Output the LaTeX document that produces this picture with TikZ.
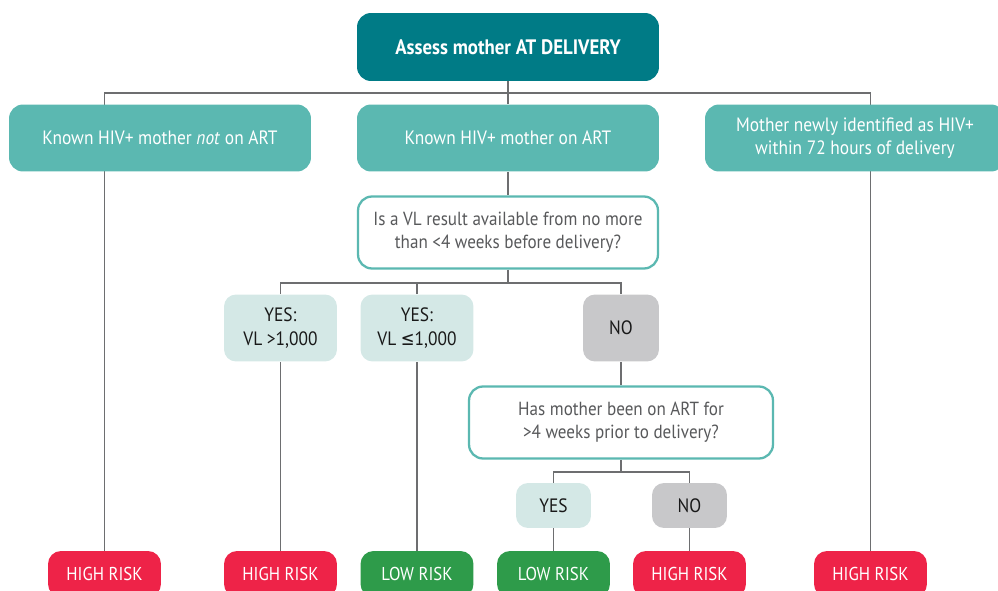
\documentclass[tikz,border=0pt]{standalone}
\usepackage{fontspec}
\setmainfont{PT Sans}[FakeStretch=0.9]
\newfontfamily\symfont{DejaVu Sans}[FakeStretch=0.85]
\usetikzlibrary{backgrounds}
\definecolor{darkteal}{HTML}{007B86}
\definecolor{midteal}{HTML}{5BB8B1}
\definecolor{paleteal}{HTML}{D4E8E6}
\definecolor{lightgray}{HTML}{C8C8CA}
\definecolor{riskred}{HTML}{EE2348}
\definecolor{riskgreen}{HTML}{2E9B4A}
\definecolor{textgray}{HTML}{58595B}
\definecolor{linegray}{HTML}{6D6E70}
\tikzset{
  box/.style={rounded corners=0.28cm, inner sep=0pt, align=center,
    font=\fontsize{11}{13.2}\selectfont},
  head/.style={box, fill=darkteal, text=white, minimum width=6.04cm,
    minimum height=1.36cm, font=\fontsize{11.9}{14}\selectfont\bfseries},
  group/.style={box, fill=midteal, text=white, minimum height=1.34cm},
  question/.style={box, draw=midteal, line width=1.3pt, fill=white,
    text=textgray, minimum width=6.0cm, minimum height=1.44cm,
    font=\fontsize{10.8}{13.2}\selectfont},
  answer/.style={box, rounded corners=0.24cm, text=black!90,
    minimum height=1.34cm},
  risk/.style={box, rounded corners=0.26cm, text=white, minimum width=2.26cm,
    minimum height=0.92cm, font=\fontsize{10.6}{12.6}\selectfont},
  link/.style={draw=linegray, line width=0.6pt}
}
\begin{document}
\begin{tikzpicture}[x=0.02cm, y=-0.02cm]
  \useasboundingbox (0,0) rectangle (998,591);

  \node[head] (top) at (508,47) {Assess mother AT DELIVERY};
  \node[group, minimum width=6.04cm] (notart) at (160,138) {Known HIV+ mother \emph{not} on ART};
  \node[group, minimum width=6.04cm] (onart) at (508,138) {Known HIV+ mother on ART};
  \node[group, minimum width=6.0cm] (newly) at (855,138) {Mother newly identified as HIV+\\within 72 hours of delivery};

  \node[question] (vlq) at (508,232.5) {Is a VL result available from no more\\than <4 weeks before delivery?};
  \node[answer, fill=paleteal, minimum width=2.26cm] (vlhigh) at (280.5,328) {YES:\\VL >1,000};
  \node[answer, fill=paleteal, minimum width=2.26cm] (vllow) at (417,328) {YES:\\VL {\symfont ≤}1,000};
  \node[answer, fill=lightgray, minimum width=1.52cm] (vlno) at (621,328) {NO};

  \node[question, minimum width=6.08cm] (artq) at (621,422.5) {Has mother been on ART for\\>4 weeks prior to delivery?};
  \node[answer, fill=paleteal, minimum width=1.5cm, minimum height=0.9cm] (artyes) at (553.5,505.5) {YES};
  \node[answer, fill=lightgray, minimum width=1.5cm, minimum height=0.9cm] (artno) at (689.5,505.5) {NO};

  \foreach \n/\x/\c/\t in {1/104.5/riskred/HIGH RISK, 2/280.5/riskred/HIGH RISK,
      3/417/riskgreen/LOW RISK, 4/553.5/riskgreen/LOW RISK,
      5/689.5/riskred/HIGH RISK, 6/870.5/riskred/HIGH RISK}
    \node[risk, fill=\c] (risk\n) at (\x,574) {\t};

  \coordinate (bus) at (508,93);
  \coordinate (vlbus) at (508,283);
  \coordinate (artbus) at (621,472);

  \begin{scope}[on background layer]
    \draw[link] (top.south) -- (onart.north);
    \draw[link] (risk1.north) |- (bus) -| (risk6.north);
    \draw[link] (onart.south) -- (vlq.north);
    \draw[link] (vlq.south) -- (vlbus);
    \draw[link] (vlhigh.north) |- (vlbus) -| (vlno.north);
    \draw[link] (vllow.north) -- (vllow.north |- vlbus);
    \draw[link] (vlhigh.south) -- (risk2.north);
    \draw[link] (vllow.south) -- (risk3.north);
    \draw[link] (vlno.south) -- (artq.north);
    \draw[link] (artq.south) -- (artbus);
    \draw[link] (artyes.north) |- (artbus) -| (artno.north);
    \draw[link] (artyes.south) -- (risk4.north);
    \draw[link] (artno.south) -- (risk5.north);
  \end{scope}
\end{tikzpicture}
\end{document}
